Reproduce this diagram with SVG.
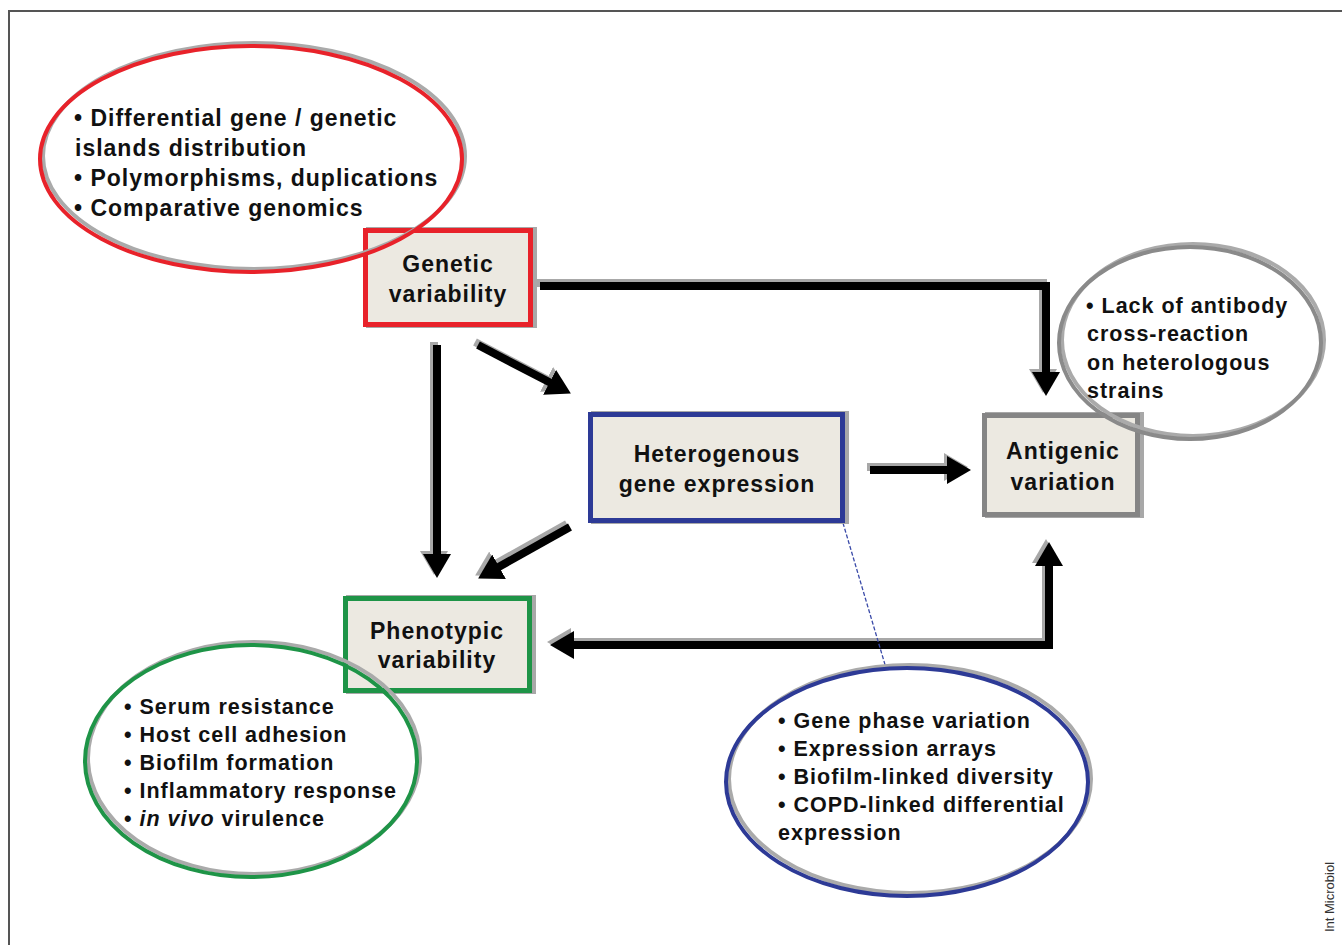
<svg xmlns="http://www.w3.org/2000/svg" xmlns:xlink="http://www.w3.org/1999/xlink" width="1342" height="945" viewBox="0 0 1342 945">
<style>
.box{fill:#ece9e1;stroke-width:5}
.bshadow{fill:#a8a8a8}
.eshadow{fill:none;stroke:#aaaaaa;stroke-width:4}
.ell{fill:none;stroke-width:4}
.t{font-family:"Liberation Sans",Arial,sans-serif;font-weight:bold;fill:#111;letter-spacing:1px}
.bt{font-size:23px;text-anchor:middle}
.et{font-size:21.5px}
.rt{font-size:23px}
.conn{fill:none;stroke:#000;stroke-width:8;stroke-linejoin:miter;marker-end:url(#ah)}
.cshadow{fill:none;stroke:#a8a8a8;stroke-width:8;stroke-linejoin:miter;marker-end:url(#ahs)}
</style>
<defs>
<marker id="ah" markerUnits="userSpaceOnUse" markerWidth="24" markerHeight="28" viewBox="0 0 24 28" refX="1" refY="14" orient="auto-start-reverse"><path d="M0,0 L24,14 L0,28 z" fill="#000"/></marker>
<marker id="ahs" markerUnits="userSpaceOnUse" markerWidth="24" markerHeight="28" viewBox="0 0 24 28" refX="1" refY="14" orient="auto-start-reverse"><path d="M0,0 L24,14 L0,28 z" fill="#a8a8a8"/></marker>
<path id="p1" d="M540,286 H1046 V373"/>
<path id="p2" d="M478,345 L550.5,382.8"/>
<path id="p3" d="M437,345 V555"/>
<path id="p4" d="M570,527 L498.2,567.2"/>
<path id="p5" d="M870,470 H948"/>
<path id="p6" d="M1049,565 V645 H573"/>
</defs>
<rect width="1342" height="945" fill="#fff"/>
<path d="M9,945 V11 H1342" fill="none" stroke="#555" stroke-width="2"/>

<g id="connectors">
<g transform="translate(-3,-3)">
<use xlink:href="#p1" class="cshadow"/>
<use xlink:href="#p2" class="cshadow"/>
<use xlink:href="#p3" class="cshadow"/>
<use xlink:href="#p4" class="cshadow"/>
<use xlink:href="#p5" class="cshadow"/>
<use xlink:href="#p6" class="cshadow" style="marker-start:url(#ahs)"/>
</g>
<use xlink:href="#p1" class="conn"/>
<use xlink:href="#p2" class="conn"/>
<use xlink:href="#p3" class="conn"/>
<use xlink:href="#p4" class="conn"/>
<use xlink:href="#p5" class="conn"/>
<use xlink:href="#p6" class="conn" style="marker-start:url(#ah)"/>
<line x1="843" y1="523" x2="886" y2="668" stroke="#3a4aa8" stroke-width="1.3" stroke-dasharray="4,2"/>
</g>

<g id="genetic">
<rect class="bshadow" x="366" y="227" width="171" height="101"/>
<rect class="box" x="365.5" y="230.5" width="165" height="94" stroke="#e8222a"/>
<text class="t bt" x="448" y="272">Genetic</text>
<text class="t bt" x="448" y="302">variability</text>
</g>

<g id="heterogenous">
<rect class="bshadow" x="591" y="411" width="258" height="113"/>
<rect class="box" x="590.5" y="414.5" width="252" height="106" stroke="#2d3a96"/>
<text class="t bt" x="717" y="462">Heterogenous</text>
<text class="t bt" x="717" y="492">gene expression</text>
</g>

<g id="antigenic">
<rect class="bshadow" x="985" y="412" width="159" height="106"/>
<rect class="box" x="984.5" y="415.5" width="153" height="99" stroke="#858585"/>
<text class="t bt" x="1063" y="459">Antigenic</text>
<text class="t bt" x="1063" y="490">variation</text>
</g>

<g id="phenotypic">
<rect class="bshadow" x="346" y="595" width="190" height="99"/>
<rect class="box" x="345.5" y="598.5" width="184" height="92" stroke="#1e9447"/>
<text class="t bt" x="437" y="639">Phenotypic</text>
<text class="t bt" x="437" y="668">variability</text>
</g>

<g id="genetic-notes">
<ellipse class="eshadow" cx="254" cy="156" rx="211" ry="113"/>
<ellipse class="ell" cx="251" cy="159" rx="211" ry="113" stroke="#e8222a"/>
<text class="t rt" x="74" y="126">• Differential gene / genetic</text>
<text class="t rt" x="75" y="156">islands distribution</text>
<text class="t rt" x="74" y="186">• Polymorphisms, duplications</text>
<text class="t rt" x="74" y="216">• Comparative genomics</text>
</g>

<g id="antigenic-notes">
<ellipse class="eshadow" cx="1193" cy="340" rx="131" ry="96"/>
<ellipse class="ell" cx="1190" cy="343" rx="131" ry="96" stroke="#8a8a8a"/>
<text class="t et" x="1086" y="313">• Lack of antibody</text>
<text class="t et" x="1087" y="341">cross-reaction</text>
<text class="t et" x="1087" y="370">on heterologous</text>
<text class="t et" x="1087" y="398">strains</text>
</g>

<g id="phenotypic-notes">
<ellipse class="eshadow" cx="254" cy="758" rx="166" ry="116"/>
<ellipse class="ell" cx="251" cy="761" rx="166" ry="116" stroke="#1e9447"/>
<text class="t et" x="124" y="714">• Serum resistance</text>
<text class="t et" x="124" y="742">• Host cell adhesion</text>
<text class="t et" x="124" y="770">• Biofilm formation</text>
<text class="t et" x="124" y="798">• Inflammatory response</text>
<text class="t et" x="124" y="826">• <tspan font-style="italic">in vivo</tspan> virulence</text>
</g>

<g id="expression-notes">
<ellipse class="eshadow" cx="910" cy="779" rx="181" ry="114"/>
<ellipse class="ell" cx="907" cy="782" rx="181" ry="114" stroke="#2d3a96"/>
<text class="t et" x="778" y="728">• Gene phase variation</text>
<text class="t et" x="778" y="756">• Expression arrays</text>
<text class="t et" x="778" y="784">• Biofilm-linked diversity</text>
<text class="t et" x="778" y="812">• COPD-linked differential</text>
<text class="t et" x="778" y="840">expression</text>
</g>

<text x="1334" y="897" transform="rotate(-90 1334 897)" text-anchor="middle" font-family="'Liberation Sans',Arial,sans-serif" font-size="13" fill="#333">Int Microbiol</text>
</svg>
